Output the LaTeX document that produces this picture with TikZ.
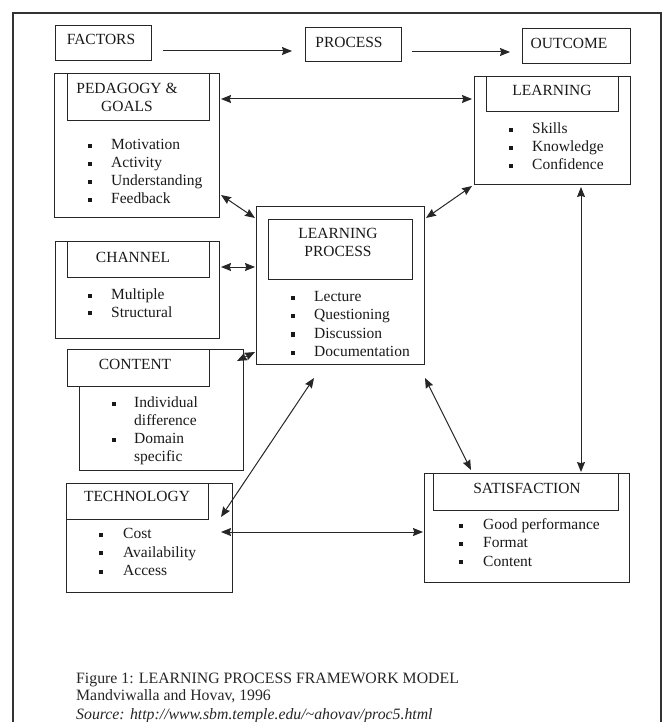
\documentclass[tikz,border=0pt]{standalone}
\usepackage{fontspec}
\setmainfont{Liberation Serif}
\usetikzlibrary{arrows.meta}
\newcommand\bl[1]{\makebox[#1][l]{\raisebox{1.6pt}{\rule{3.8pt}{4.2pt}}}}
\tikzset{
  box/.style={draw=black!85, line width=1pt, inner sep=0pt, outer sep=0pt},
  lbl/.style={inner sep=0pt, font=\fontsize{15.5}{18}\selectfont, text=black!90},
  hd/.style={lbl, align=center},
  itm/.style={lbl, anchor=base west},
  captxt/.style={inner sep=0pt, font=\fontsize{15.8}{18}\selectfont, text=black!85, anchor=base west},
  tip/.style={Stealth[length=10pt,width=8pt,inset=1.2pt]},
  sar/.style={draw=black!85, line width=1pt, -{Stealth[length=10pt,width=8pt,inset=1.2pt]}},
  dar/.style={draw=black!85, line width=1pt, {Stealth[length=10pt,width=8pt,inset=1.2pt]}-{Stealth[length=10pt,width=8pt,inset=1.2pt]}},
  frame/.style={draw=black!80, line width=1.4pt}
}
\begin{document}
\begin{tikzpicture}[x=1pt,y=-1pt]
\useasboundingbox (0,0) rectangle (666,722);
\draw[frame] (13,730) -- (13,13) -- (661,13) -- (661,730);

% top row
\node[box, minimum width=96pt, minimum height=35pt] (fac) at (103,43.5) {};
\node[lbl] (factxt) at (101,39) {FACTORS};
\node[box, minimum width=96pt, minimum height=34pt] (proc) at (353,45) {};
\node[lbl] (proctxt) at (349,42) {PROCESS};
\node[box, minimum width=108pt, minimum height=35pt] (out) at (576,46.5) {};
\node[lbl] (outtxt) at (569,43) {OUTCOME};

% pedagogy
\node[box, minimum width=165pt, minimum height=143pt] (ped) at (136.5,145.5) {};
\node[box, minimum width=142pt, minimum height=47pt] (pedh) at (138,97.5) {};
\node[hd] (pedtxt) at (127,97) {PEDAGOGY \&\\GOALS};
\node[itm] (ped1) at (88.2,149.5) {\bl{22.8pt}Motivation};
\node[itm] (ped2) at (88.2,167.5) {\bl{22.8pt}Activity};
\node[itm] (ped3) at (88.2,185.5) {\bl{22.8pt}Understanding};
\node[itm] (ped4) at (88.2,203.5) {\bl{22.8pt}Feedback};

% learning
\node[box, minimum width=156pt, minimum height=107pt] (learn) at (552,130.5) {};
\node[box, minimum width=132pt, minimum height=35pt] (learnh) at (552,94.5) {};
\node[hd] (learntxt) at (552,90) {LEARNING};
\node[itm] (learn1) at (509.2,133.5) {\bl{22.8pt}Skills};
\node[itm] (learn2) at (509.2,151.5) {\bl{22.8pt}Knowledge};
\node[itm] (learn3) at (509.2,169.5) {\bl{22.8pt}Confidence};

% learning process
\node[box, minimum width=168pt, minimum height=158pt] (lp) at (340,285) {};
\node[box, minimum width=144pt, minimum height=60pt] (lph) at (340,249) {};
\node[hd] (lptxt) at (338,242.5) {LEARNING\\PROCESS};
\node[itm] (lp1) at (291.2,301.5) {\bl{22.8pt}Lecture};
\node[itm] (lp2) at (291.2,319.8) {\bl{22.8pt}Questioning};
\node[itm] (lp3) at (291.2,338.1) {\bl{22.8pt}Discussion};
\node[itm] (lp4) at (291.2,356.4) {\bl{22.8pt}Documentation};

% channel
\node[box, minimum width=164pt, minimum height=97pt] (ch) at (137,289.5) {};
\node[box, minimum width=142pt, minimum height=36pt] (chh) at (138,259) {};
\node[hd] (chtxt) at (133,257) {CHANNEL};
\node[itm] (ch1) at (88.2,299.5) {\bl{22.8pt}Multiple};
\node[itm] (ch2) at (88.2,317) {\bl{22.8pt}Structural};

% content
\node[box, minimum width=164pt, minimum height=121pt] (cont) at (161,409.5) {};
\node[box, fill=white, minimum width=142pt, minimum height=37pt] (conth) at (138,367.5) {};
\node[hd] (conttxt) at (135,364) {CONTENT};
\node[itm] (cont1) at (112.2,407.5) {\bl{21.8pt}Individual};
\node[itm] (cont1b) at (134,425.5) {difference};
\node[itm] (cont2) at (112.2,443.5) {\bl{21.8pt}Domain};
\node[itm] (cont2b) at (134,461.5) {specific};

% technology
\node[box, minimum width=166pt, minimum height=109pt] (tech) at (149,537.5) {};
\node[box, minimum width=142pt, minimum height=36pt] (techh) at (137,501) {};
\node[hd] (techtxt) at (137,496) {TECHNOLOGY};
\node[itm] (tech1) at (99.2,538.5) {\bl{23.8pt}Cost};
\node[itm] (tech2) at (99.2,557) {\bl{23.8pt}Availability};
\node[itm] (tech3) at (99.2,575.5) {\bl{23.8pt}Access};

% satisfaction
\node[box, minimum width=205pt, minimum height=109pt] (sat) at (526.5,527.5) {};
\node[box, minimum width=185pt, minimum height=37pt] (sath) at (525.5,491.5) {};
\node[hd] (sattxt) at (527,488) {SATISFACTION};
\node[itm] (sat1) at (459.2,529.5) {\bl{23.8pt}Good performance};
\node[itm] (sat2) at (459.2,547.5) {\bl{23.8pt}Format};
\node[itm] (sat3) at (459.2,566) {\bl{23.8pt}Content};

% connectors
\draw[sar] ([xshift=12pt,yshift=-7.5pt]fac.east) -- ([xshift=-13pt,yshift=-6pt]proc.west);
\draw[sar] ([xshift=11pt,yshift=-7pt]proc.east) -- ([xshift=-12pt,yshift=-5.5pt]out.west);
\draw[dar] ([xshift=2pt,yshift=46.5pt]ped.east) -- ([xshift=-2pt,yshift=31.5pt]learn.west);
\draw[dar] ([xshift=2pt,yshift=22pt]ped.south east) -- ([xshift=-1pt,yshift=-12pt]lp.north west);
\draw[dar] ([xshift=-2pt,yshift=-2pt]learn.south west) -- ([xshift=2pt,yshift=-12pt]lp.north east);
\draw[dar] ([xshift=2pt,yshift=22.5pt]ch.east) -- ([xshift=-1pt,yshift=18pt]lp.west);
\draw[dar] ([xshift=-6pt,yshift=-12pt]cont.north east) -- ([xshift=-1pt,yshift=-67pt]lp.west);
\draw[dar] ([xshift=-26pt,yshift=-14pt]lp.south) -- ([xshift=-11pt,yshift=-34pt]tech.north east);
\draw[dar] ([xshift=1pt,yshift=-14pt]lp.south east) -- ([xshift=47pt,yshift=3pt]sat.north west);
\draw[dar] ([xshift=-11pt,yshift=5.5pt]tech.east) -- ([xshift=-1pt,yshift=-4.5pt]sat.west);
\draw[dar] ([xshift=29pt,yshift=-3pt]learn.south) -- ([xshift=54.5pt,yshift=1pt]sat.north);

% caption
\node[captxt] (cap1) at (76,683) {Figure 1: LEARNING PROCESS FRAMEWORK MODEL};
\node[captxt] (cap2) at (76,700.5) {Mandviwalla and Hovav, 1996};
\node[captxt] (cap3) at (76,719) {\itshape Source: http://www.sbm.temple.edu/\char"7E ahovav/proc5.html};
\end{tikzpicture}
\end{document}
